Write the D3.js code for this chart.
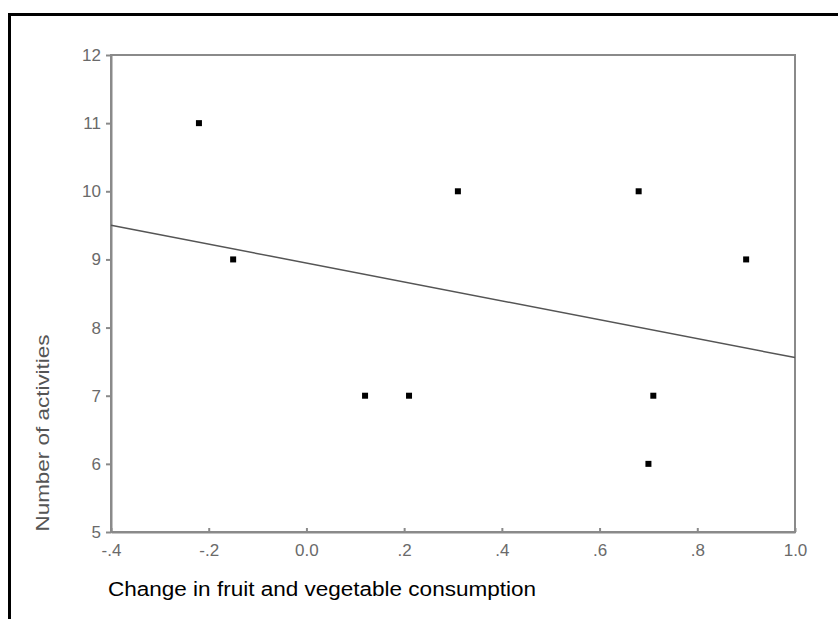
<!DOCTYPE html>
<html>
<head>
	<meta charset="utf-8">
	<style>
		body {
			margin: 0;
			background: #fff;
			font-family: "Liberation Sans", Arial, sans-serif;
		}
		.axis path, .axis line {
			stroke: #8a8a8a;
			stroke-width: 2px;
		}
		.axis text {
			fill: #6a6a6a;
			font-size: 17px;
			font-family: "Liberation Sans", Arial, sans-serif;
		}
		.frame-box {
			fill: none;
			stroke: #8a8a8a;
			stroke-width: 2px;
		}
		.fit {
			stroke: #555;
			stroke-width: 1.5px;
			fill: none;
		}
		rect.pt {
			fill: #000;
		}
	</style>
	<script src="https://d3js.org/d3.v7.min.js"></script>
</head>
<body>
	<script>
		// data
		var change = [-0.22, -0.15, 0.12, 0.21, 0.31, 0.68, 0.70, 0.71, 0.90];
		var activities = [11, 9, 7, 7, 10, 10, 6, 7, 9];
		var x_ticks = [-0.4, -0.2, 0.0, 0.2, 0.4, 0.6, 0.8, 1.0];
		var x_tick_labels = ['-.4', '-.2', '0.0', '.2', '.4', '.6', '.8', '1.0'];
		var y_ticks = [5, 6, 7, 8, 9, 10, 11, 12];

		var width = 838, height = 619,
			plot = {left: 111, right: 795, top: 55, bottom: 532};

		var svg = d3.select('body').append('svg')
			.attr('width', width)
			.attr('height', height);

		// outer frame (runs off the right and bottom edge)
		svg.append('rect')
			.attr('x', 9.5)
			.attr('y', 14.5)
			.attr('width', width + 20)
			.attr('height', height + 20)
			.attr('fill', 'none')
			.attr('stroke', '#000')
			.attr('stroke-width', 3);

		var x = d3.scaleLinear()
			.domain([-0.4, 1.0])
			.range([plot.left, plot.right]);

		var y = d3.scaleLinear()
			.domain([5, 12])
			.range([plot.bottom, plot.top]);

		// plot box
		svg.append('rect')
			.attr('class', 'frame-box')
			.attr('x', plot.left)
			.attr('y', plot.top)
			.attr('width', plot.right - plot.left)
			.attr('height', plot.bottom - plot.top);

		var axis_x = d3.axisBottom(x)
			.tickValues(x_ticks)
			.tickFormat((d, i) => x_tick_labels[i])
			.tickSizeInner(-4)
			.tickSizeOuter(0)
			.tickPadding(12);

		svg.append('g')
			.attr('class', 'axis x')
			.attr('transform', 'translate(0,' + plot.bottom + ')')
			.call(axis_x);

		var axis_y = d3.axisLeft(y)
			.tickValues(y_ticks)
			.tickFormat(d3.format('d'))
			.tickSizeInner(5)
			.tickSizeOuter(0)
			.tickPadding(5);

		svg.append('g')
			.attr('class', 'axis y')
			.attr('transform', 'translate(' + plot.left + ',0)')
			.call(axis_y);

		// least squares fit line
		var mx = d3.mean(change), my = d3.mean(activities);
		var sxy = d3.sum(change, (d, i) => (d - mx) * (activities[i] - my)),
			sxx = d3.sum(change, d => (d - mx) * (d - mx));
		var slope = sxy / sxx, icept = my - slope * mx;
		var fit_pts = x.domain().map(v => [v, icept + slope * v]);

		svg.append('path')
			.attr('class', 'fit')
			.attr('d', d3.line().x(d => x(d[0])).y(d => y(d[1]))(fit_pts));

		// points
		var sz = 6;
		svg.append('g')
			.selectAll('rect')
			.data(change)
			.join('rect')
			.attr('class', 'pt')
			.attr('x', d => x(d) - sz / 2)
			.attr('y', (d, i) => y(activities[i]) - sz / 2)
			.attr('width', sz)
			.attr('height', sz);

		// axis titles
		svg.append('text')
			.attr('transform', 'translate(49,433) rotate(-90)')
			.attr('text-anchor', 'middle')
			.attr('fill', '#555')
			.attr('font-size', 19)
			.attr('textLength', 197)
			.attr('lengthAdjust', 'spacingAndGlyphs')
			.text('Number of activities');

		svg.append('text')
			.attr('x', 108)
			.attr('y', 596)
			.attr('fill', '#000')
			.attr('font-size', 20)
			.attr('textLength', 428)
			.attr('lengthAdjust', 'spacingAndGlyphs')
			.text('Change in fruit and vegetable consumption');
	</script>
</body>
</html>
